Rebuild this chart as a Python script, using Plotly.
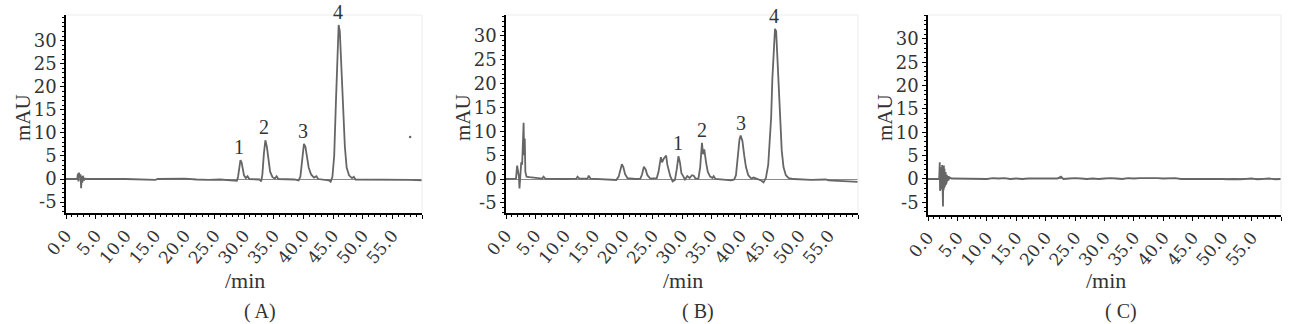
import plotly.graph_objects as go

# ---------------- data ----------------
t_A = [0.0, 1.9, 2.0, 2.1, 2.2, 2.3, 2.45, 2.55, 2.65, 2.75, 2.85, 3.0, 3.2, 3.5, 10.0, 15.1, 15.4, 20.0, 22.0, 24.0, 26.0,
       28.5, 28.8, 29.0, 29.2, 29.4, 29.6, 29.8, 30.0, 30.3, 30.6, 30.9,
       32.6, 32.9, 33.1, 33.35, 33.6, 33.85, 34.1, 34.4, 34.8, 35.2, 35.5, 35.8,
       38.5, 39.2, 39.5, 39.8, 40.1, 40.35, 40.6, 40.9, 41.3, 41.8, 42.2, 42.5,
       44.3, 44.6, 44.9, 45.2, 45.5, 45.75, 45.95, 46.15, 46.4, 46.7, 47.0, 47.3, 47.7, 48.2, 48.5, 48.8,
       52.0, 55.0, 58.0, 60.0]
v_A = [0.0, 0.0, 1.2, -0.5, 1.4, 0.2, 1.0, -2.0, 0.6, -0.8, 0.7, -0.3, 0.1, 0.0, 0.0, -0.2, 0.0, 0.1, -0.1, -0.2, -0.1,
       -0.3, -0.4, 0.5, 2.5, 4.1, 3.6, 2.0, 0.8, 0.2, 0.6, 0.0,
       -0.1, -0.5, 1.0, 5.5, 8.4, 7.0, 4.0, 1.6, 0.4, 0.1, 0.6, 0.0,
       -0.1, -0.3, 0.5, 3.5, 7.6, 7.0, 4.8, 2.5, 1.0, 0.3, 0.6, 0.0,
       -0.3, -0.6, 0.5, 5.0, 17.0, 29.0, 33.4, 32.0, 25.0, 15.0, 7.0, 2.5, 0.8, 0.2, 0.5, -0.1,
       -0.1, -0.2, -0.2, -0.3]
stray_A_t = [58.0]
stray_A_v = [9.1]

t_B = [0.0, 1.7, 1.9, 2.05, 2.2, 2.3, 2.45, 2.6, 2.75, 2.9, 3.0, 3.1, 3.2, 3.3, 3.5, 4.0, 5.0,
       6.2, 6.4, 6.7, 10.0, 12.0, 12.2, 12.5, 13.9, 14.1, 14.4, 17.0,
       18.8, 19.2, 19.5, 19.75, 20.0, 20.3, 20.7, 22.0,
       22.9, 23.2, 23.5, 23.8, 24.1, 24.6,
       25.7, 26.0, 26.4, 26.6, 26.9, 27.3, 27.5, 27.7, 28.0, 28.4,
       28.8, 29.1, 29.4, 29.65, 29.9, 30.2, 30.5, 30.9, 31.3, 31.7, 32.0, 32.3,
       32.8, 33.1, 33.4, 33.6, 33.8, 34.1, 34.4, 34.8, 35.2, 35.4, 35.7,
       38.4, 38.9, 39.2, 39.5, 39.8, 40.0, 40.3, 40.6, 40.9, 41.3, 41.8, 42.2,
       43.5, 43.9, 44.3, 44.7, 45.0, 45.2, 45.4, 45.65, 45.85, 46.05, 46.25, 46.45, 46.7, 47.0, 47.3, 47.7, 48.2,
       49.0, 52.0, 54.5, 55.0, 58.0, 60.0]
v_B = [0.0, 0.1, 2.8, 1.5, 0.5, -2.0, 1.0, 3.5, 3.0, 8.0, 11.8, 5.0, 8.5, 1.5, 0.5, 0.4, 0.2,
       0.1, 0.5, 0.1, 0.0, 0.1, 0.5, 0.1, 0.1, 0.7, 0.1, -0.1,
       -0.2, 0.5, 2.2, 3.1, 2.5, 1.0, 0.2, 0.0,
       0.1, 1.0, 2.6, 2.0, 0.8, 0.1,
       0.2, 1.5, 4.6, 3.5, 4.3, 4.9, 3.0, 2.0, 0.6, -0.5,
       -0.2, 2.0, 4.8, 3.5, 1.2, 0.6, -0.1, 0.6, 0.2, 0.8, 0.7, 0.1,
       0.1, 2.5, 7.6, 5.2, 6.2, 3.5, 1.5, 0.5, 0.2, 0.6, 0.0,
       -0.3, -0.1, 0.8, 4.5, 8.3, 9.1, 8.0, 5.0, 2.5, 0.8, 0.1, 0.3,
       -0.3, -0.7, 0.2, 3.0, 9.0, 13.0, 21.0, 29.0, 31.5, 31.0, 25.0, 20.0, 12.0, 6.0, 2.5, 0.8, 0.2,
       0.0, -0.2, -0.1, -0.3, -0.5, -0.6]

t_C = [0.0, 1.9, 2.0, 2.05, 2.1, 2.15, 2.2, 2.25, 2.3, 2.35, 2.4, 2.45, 2.5, 2.55, 2.6, 2.65, 2.7, 2.75, 2.8,
       2.85, 2.9, 2.95, 3.0, 3.05, 3.1, 3.15, 3.2, 3.3, 3.4, 3.5, 3.6, 3.7, 4.0,
       5, 6, 7, 8, 9, 10, 11, 12, 13, 14, 15, 16, 17, 18, 19, 20, 21, 22, 22.6, 23, 24, 25, 26, 27, 28, 29, 30,
       31, 32, 33, 34, 35, 36, 37, 38, 39, 40, 41, 42, 43, 44, 45, 46, 47, 48, 49, 50, 51, 52, 53, 54, 55, 56,
       57, 58, 59, 60]
v_C = [0.0, 0.0, 3.6, -2.5, 3.2, -2.0, 2.5, -1.5, 1.8, -2.2, 3.0, -2.0, 2.6, -5.9, 2.8, -2.4, 2.9, -2.0, 2.2,
       -1.6, 2.0, -1.0, 1.5, -1.2, 1.2, -0.8, 0.9, -0.5, 0.6, -0.3, 0.5, 0.3, 0.1,
       0.1, 0.0, 0.15, 0.0, 0.1, 0.0, 0.2, 0.1, 0.2, 0.0, 0.1, 0.0, 0.1, 0.1, 0.0, 0.1, 0.0, 0.1, 0.5, 0.0, 0.1,
       0.2, 0.1, 0.0, 0.1, 0.0, 0.1, 0.2, 0.1, 0.0, 0.2, 0.1, 0.2, 0.2, 0.3, 0.2, 0.1, 0.1, 0.2, 0.0, 0.0, 0.1,
       0.0, 0.0, 0.0, 0.1, 0.0, -0.1, 0.0, -0.1, 0.0, 0.1, -0.1, 0.0, 0.1, -0.1, 0.0]

peak_labels = ["1", "2", "3", "4"]
peaks_A_t = [29.2, 33.4, 40.0, 45.9]
peaks_A_v = [4.1, 8.4, 7.6, 33.4]
peaks_B_t = [29.3, 33.4, 40.0, 45.6]
peaks_B_v = [4.8, 7.6, 9.1, 31.5]

x_tickvals = [0, 5, 10, 15, 20, 25, 30, 35, 40, 45, 50, 55, 60]
x_ticktext = ["0.0", "5.0", "10.0", "15.0", "20.0", "25.0", "30.0", "35.0", "40.0", "45.0", "50.0", "55.0", ""]
y_tickvals = [-5, 0, 5, 10, 15, 20, 25, 30]
y_ticktext = ["-5", "0", "5", "10", "15", "20", "25", "30"]
panel_titles = ["( A)", "( B)", "( C)"]

# ---------------- layout helpers ----------------
W, H = 1290, 324
FONT = "Liberation Serif"
TICKFONT = "DejaVu Serif"
TXT = "#333333"
LINE = "#666666"

panels = [
    dict(x0=66, x1=422, yb=213, yt=15, yr=[-7.37, 35.57]),
    dict(x0=506, x1=858, yb=213, yt=15, yr=[-7.13, 34.4]),
    dict(x0=928, x1=1281, yb=215, yt=15, yr=[-7.71, 35.1]),
]

fig = go.Figure()
data = [(t_A, v_A), (t_B, v_B), (t_C, v_C)]
for i, (tt, vv) in enumerate(data):
    n = "" if i == 0 else str(i + 1)
    fig.add_trace(go.Scatter(x=tt, y=vv, mode="lines", line=dict(color=LINE, width=1.8),
                             xaxis="x" + n, yaxis="y" + n, showlegend=False, hoverinfo="skip"))
fig.add_trace(go.Scatter(x=stray_A_t, y=stray_A_v, mode="markers", marker=dict(color=LINE, size=2.5),
                         xaxis="x", yaxis="y", showlegend=False))

annotations = []
shapes = []
for i, p in enumerate(panels):
    n = "" if i == 0 else str(i + 1)
    xd = [p["x0"] / W, p["x1"] / W]
    yd = [1 - p["yb"] / H, 1 - p["yt"] / H]
    xtick_font = dict(family=TICKFONT, size=17, color=TXT)
    ytick_font = dict(family=TICKFONT, size=18, color=TXT)
    fig.layout["xaxis" + n] = dict(
        domain=xd, range=[0, 60], anchor="y" + n, showgrid=False, zeroline=False, automargin=False,
        showline=True, linecolor="black", linewidth=1.5,
        tickmode="array", tickvals=x_tickvals, ticktext=x_ticktext, tickangle=-50,
        ticks="outside", ticklen=4, tickcolor="black", tickwidth=1.2,
        minor=dict(dtick=1, ticks="outside", ticklen=2.5, tickcolor="black", tickwidth=1),
        tickfont=xtick_font, fixedrange=True,
    )
    fig.layout["yaxis" + n] = dict(
        domain=yd, range=p["yr"], anchor="x" + n, showgrid=False, automargin=False,
        zeroline=True, zerolinecolor="#8a8a8a", zerolinewidth=1,
        showline=True, linecolor="black", linewidth=1.5,
        tickmode="array", tickvals=y_tickvals, ticktext=y_ticktext,
        ticks="outside", ticklen=4, tickcolor="black", tickwidth=1.2,
        minor=dict(dtick=1, ticks="outside", ticklen=2.5, tickcolor="black", tickwidth=1),
        tickfont=ytick_font, fixedrange=True,
    )
    shapes.append(dict(type="line", xref="x" + n + " domain", yref="y" + n + " domain",
                       x0=0, x1=1, y0=1, y1=1, line=dict(color="#ececec", width=1)))
    shapes.append(dict(type="line", xref="x" + n + " domain", yref="y" + n + " domain",
                       x0=1, x1=1, y0=0, y1=1, line=dict(color="#ececec", width=1)))
    annotations.append(dict(text="mAU", xref="paper", yref="paper",
                            x=(p["x0"] - 43) / W, y=1 - 118 / H, showarrow=False, textangle=-90,
                            font=dict(family=FONT, size=21, color=TXT), xanchor="center", yanchor="middle"))
    cx = (p["x0"] + p["x1"]) / 2
    annotations.append(dict(text="/min", xref="paper", yref="paper",
                            x=(cx + 1) / W, y=1 - 280 / H, showarrow=False,
                            font=dict(family=FONT, size=22, color=TXT), xanchor="center", yanchor="middle"))
    annotations.append(dict(text=panel_titles[i], xref="paper", yref="paper",
                            x=(cx + 16) / W, y=1 - 324 / H, showarrow=False,
                            font=dict(family=FONT, size=20, color=TXT), xanchor="center", yanchor="bottom",
                            borderpad=0))

for lab, tt, vv in zip(peak_labels, peaks_A_t, peaks_A_v):
    annotations.append(dict(text=lab, x=tt, y=vv, xref="x", yref="y", showarrow=False,
                            font=dict(family=FONT, size=20, color=TXT), yanchor="bottom"))
for lab, tt, vv in zip(peak_labels, peaks_B_t, peaks_B_v):
    annotations.append(dict(text=lab, x=tt, y=vv, xref="x2", yref="y2", showarrow=False,
                            font=dict(family=FONT, size=20, color=TXT), yanchor="bottom"))

fig.update_layout(width=W, height=H, margin=dict(l=0, r=0, t=0, b=0, autoexpand=False),
                  paper_bgcolor="white", plot_bgcolor="white",
                  annotations=annotations, shapes=shapes, showlegend=False)

fig.write_html("out.html", include_plotlyjs=True, config={"displayModeBar": False})
